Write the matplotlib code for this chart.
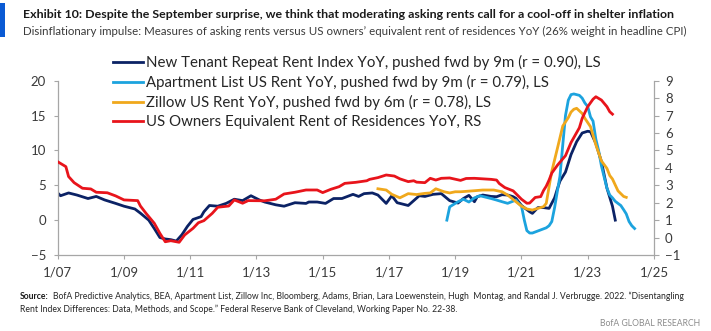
import matplotlib
matplotlib.use("Agg")
import matplotlib.pyplot as plt
import pandas as pd
from matplotlib import font_manager
from matplotlib.patches import Rectangle

# ---------------------------------------------------------------- fonts
_installed = {f.name for f in font_manager.fontManager.ttflist}
BASE_FONT = next((f for f in ("Liberation Sans Narrow", "Lato", "Roboto") if f in _installed),
                 "DejaVu Sans")
plt.rcParams["font.family"] = [BASE_FONT, "DejaVu Sans"]

# ---------------------------------------------------------------- data
# New Tenant Repeat Rent Index YoY (%), shifted forward 9 months, left scale
ntrr_dates = [
    "2007-01", "2007-02", "2007-05", "2007-08", "2007-12", "2008-03", "2008-06", "2008-10",
    "2009-01", "2009-05", "2009-07", "2009-10", "2009-12", "2010-02", "2010-04", "2010-06",
    "2010-08", "2010-10", "2010-12", "2011-02", "2011-05", "2011-06", "2011-08", "2011-11",
    "2012-02", "2012-05", "2012-08", "2012-11", "2013-02", "2013-04", "2013-08", "2013-11",
    "2014-03", "2014-07", "2014-08", "2014-11", "2015-02", "2015-05", "2015-08", "2015-12",
    "2016-02", "2016-04", "2016-07", "2016-09", "2016-12", "2017-02", "2017-04", "2017-08",
    "2017-12", "2018-02", "2018-05", "2018-08", "2018-11", "2019-02", "2019-04", "2019-06",
    "2019-08", "2019-09", "2019-11", "2020-02", "2020-04", "2020-06", "2020-08", "2020-10",
    "2020-11", "2021-01", "2021-04", "2021-05", "2021-07", "2021-09", "2021-11", "2022-01",
    "2022-02", "2022-03", "2022-05", "2022-07", "2022-09", "2022-11", "2023-01", "2023-02",
    "2023-04", "2023-06", "2023-08", "2023-10", "2023-11",
]
ntrr_yoy = [
    3.9, 3.5, 3.9, 3.6, 3.1, 3.4, 2.9, 2.4,
    2.0, 1.6, 1.0, 0.0, -1.2, -2.5, -2.7, -2.8,
    -3.0, -2.1, -0.9, 0.1, 0.5, 1.2, 2.1, 2.0,
    2.4, 3.0, 2.8, 3.5, 2.9, 2.6, 2.2, 2.0,
    2.5, 2.4, 2.6, 2.6, 2.4, 3.1, 3.1, 3.7,
    3.4, 3.8, 3.9, 3.6, 2.4, 3.5, 2.5, 2.1,
    3.5, 3.4, 3.7, 3.8, 2.8, 2.45, 3.1, 3.55,
    2.64, 3.36, 3.6, 3.4, 3.36, 3.65, 3.6, 3.36,
    3.12, 2.1, 1.2, 0.97, 1.8, 1.8, 1.69, 3.2,
    4.5, 5.6, 6.9, 9.4, 11.25, 12.5, 12.75, 12.68,
    11.0, 8.4, 4.6, 2.0, 0.0,
]

# Apartment List US rent YoY (%), shifted forward 9 months, left scale
aptlist_dates = [
    "2018-10", "2018-11", "2019-01", "2019-02", "2019-04", "2019-06", "2019-08", "2019-10",
    "2019-12", "2020-02", "2020-04", "2020-06", "2020-08", "2020-11", "2020-12", "2021-01",
    "2021-02", "2021-03", "2021-04", "2021-05", "2021-06", "2021-08", "2021-10", "2021-11",
    "2021-12", "2022-01", "2022-02", "2022-03", "2022-04", "2022-05", "2022-06", "2022-07",
    "2022-08", "2022-09", "2022-10", "2022-11", "2022-12", "2023-01", "2023-02", "2023-03",
    "2023-04", "2023-05", "2023-06", "2023-07", "2023-08", "2023-09", "2023-10", "2023-11",
    "2023-12", "2024-01", "2024-02", "2024-03", "2024-04", "2024-05", "2024-06",
]
aptlist_yoy = [
    0.0, 1.9, 2.4, 2.64, 3.0, 2.6, 3.2, 3.5,
    3.3, 3.1, 2.88, 2.64, 2.41, 2.88, 2.4, 2.0,
    0.0, -1.5, -1.85, -1.85, -1.7, -1.4, -1.1, -0.8,
    -0.2, 1.8, 4.2, 6.3, 10.8, 15.0, 17.2, 18.0,
    18.1, 18.0, 17.9, 17.5, 16.8, 16.3, 14.8, 14.2,
    11.6, 10.0, 7.8, 6.2, 4.6, 3.6, 3.2, 2.7,
    2.4, 2.1, 1.5, 0.9, -0.2, -0.8, -1.2,
]

# Zillow US rent YoY (%), shifted forward 6 months, left scale
zillow_dates = [
    "2016-09", "2016-12", "2017-02", "2017-05", "2017-08", "2017-11", "2018-02", "2018-04",
    "2018-06", "2018-09", "2018-11", "2019-01", "2019-03", "2019-08", "2019-11", "2020-03",
    "2020-06", "2020-08", "2020-11", "2021-01", "2021-03", "2021-05", "2021-07", "2021-09",
    "2021-10", "2021-11", "2021-12", "2022-02", "2022-04", "2022-06", "2022-07", "2022-08",
    "2022-09", "2022-11", "2022-12", "2023-02", "2023-04", "2023-06", "2023-08", "2023-09",
    "2023-10", "2023-12", "2024-02", "2024-03",
]
zillow_yoy = [
    4.5, 4.32, 3.7, 3.2, 3.8, 3.67, 3.84, 3.9,
    4.5, 4.07, 3.9, 4.07, 4.07, 4.22, 4.32, 4.32,
    4.07, 3.6, 2.64, 2.0, 1.6, 1.45, 1.69, 1.93,
    2.41, 4.79, 7.0, 10.3, 13.5, 14.7, 15.5, 15.9,
    16.04, 15.3, 14.6, 13.4, 10.8, 8.5, 7.42, 6.4,
    5.9, 4.2, 3.4, 3.27,
]

# US owners' equivalent rent of residences YoY (%), right scale
oer_dates = [
    "2007-01", "2007-04", "2007-05", "2007-07", "2007-10", "2008-01", "2008-03", "2008-07",
    "2008-10", "2009-01", "2009-06", "2009-07", "2009-09", "2009-12", "2010-02", "2010-04",
    "2010-06", "2010-09", "2010-11", "2011-02", "2011-04", "2011-06", "2011-09", "2011-11",
    "2012-03", "2012-05", "2012-08", "2012-10", "2013-04", "2013-08", "2013-11", "2014-03",
    "2014-07", "2014-11", "2015-01", "2015-04", "2015-07", "2015-09", "2016-01", "2016-05",
    "2016-06", "2016-09", "2016-12", "2017-03", "2017-05", "2017-08", "2017-10", "2017-11",
    "2018-02", "2018-04", "2018-06", "2018-08", "2018-11", "2019-03", "2019-05", "2019-08",
    "2020-02", "2020-04", "2020-05", "2020-07", "2020-10", "2021-01", "2021-03", "2021-04",
    "2021-06", "2021-08", "2021-09", "2021-10", "2021-11", "2021-12", "2022-02", "2022-05",
    "2022-07", "2022-10", "2022-11", "2023-01", "2023-03", "2023-04", "2023-06", "2023-08",
    "2023-09", "2023-10",
]
oer_yoy = [
    4.35, 4.07, 3.5, 3.15, 2.83, 2.79, 2.6, 2.57,
    2.39, 2.16, 2.12, 1.81, 1.39, 0.82, 0.24, -0.24,
    -0.18, -0.27, 0.15, 0.53, 0.85, 0.97, 1.39, 1.74,
    1.81, 2.16, 1.97, 2.12, 2.11, 2.2, 2.5, 2.6,
    2.73, 2.73, 2.58, 2.77, 2.92, 3.11, 3.17, 3.26,
    3.34, 3.44, 3.59, 3.53, 3.37, 3.21, 3.26, 3.18,
    3.15, 3.4, 3.3, 3.4, 3.42, 3.28, 3.39, 3.4,
    3.34, 3.3, 3.1, 2.87, 2.68, 2.2, 1.97, 1.98,
    2.3, 2.35, 2.7, 2.95, 3.3, 3.7, 4.15, 4.7,
    5.45, 6.3, 6.84, 7.51, 7.94, 8.08, 7.89, 7.51,
    7.22, 7.08,
]

legend_labels = [
    "New Tenant Repeat Rent Index YoY, pushed fwd by 9m (r = 0.90), LS",
    "Apartment List US Rent YoY, pushed fwd by 9m (r = 0.79), LS",
    "Zillow US Rent YoY, pushed fwd by 6m (r = 0.78), LS",
    "US Owners Equivalent Rent of Residences YoY, RS",
]
left_ticks = [-5, 0, 5, 10, 15, 20]
right_ticks = [-1, 0, 1, 2, 3, 4, 5, 6, 7, 8, 9]
x_tick_dates = pd.date_range("2007-01-01", "2025-01-01", freq="24MS")


def series(dates, values):
    return pd.Series(values, index=pd.to_datetime(dates, format="%Y-%m"))


ntrr = series(ntrr_dates, ntrr_yoy)
aptlist = series(aptlist_dates, aptlist_yoy)
zillow = series(zillow_dates, zillow_yoy)
oer = series(oer_dates, oer_yoy)

# ---------------------------------------------------------------- style
NAVY = "#0B2265"
SKY = "#1CA3DE"
GOLD = "#F0A81C"
RED = "#E8141B"
AXIS_GREY = "#A6A6A6"
TEXT = "#3A3A3A"
LW = 2.0
W, H = 711, 331

fig = plt.figure(figsize=(W / 100, H / 100), dpi=100)
renderer = fig.canvas.get_renderer()


def text_width(s, **kw):
    t = fig.text(0, 0, s, **kw)
    w = t.get_window_extent(renderer).width
    t.remove()
    return w


def fit_size(s, width_px, ref_size=10, **kw):
    """Font size at which string s spans width_px pixels."""
    return ref_size * width_px / text_width(s, fontsize=ref_size, **kw)


ax = fig.add_axes([57.7 / W, 1 - 255 / H, (654 - 57.7) / W, (255 - 80.7) / H])
ax2 = ax.twinx()

h1, = ax.plot(ntrr.index.to_pydatetime(), ntrr.values, color=NAVY, lw=LW, solid_joinstyle="round")
h2, = ax.plot(aptlist.index.to_pydatetime(), aptlist.values, color=SKY, lw=LW, solid_joinstyle="round")
h3, = ax.plot(zillow.index.to_pydatetime(), zillow.values, color=GOLD, lw=LW, solid_joinstyle="round")
h4, = ax2.plot(oer.index.to_pydatetime(), oer.values, color=RED, lw=LW, solid_joinstyle="round")

ax.set_xlim(pd.Timestamp("2007-01-01").to_pydatetime(), pd.Timestamp("2025-01-01").to_pydatetime())
ax.set_ylim(-5, 20)
ax2.set_ylim(-1, 9)
ax.set_yticks(left_ticks)
ax2.set_yticks(right_ticks)
ax.set_xticks(list(x_tick_dates.to_pydatetime()))
ax.set_xticklabels([f"{d.month}/{d:%y}" for d in x_tick_dates])

for a in (ax, ax2):
    a.spines["top"].set_visible(False)
    for side in ("left", "right", "bottom"):
        a.spines[side].set_color(AXIS_GREY)
        a.spines[side].set_linewidth(0.9)
    a.patch.set_visible(False)
ax.spines["right"].set_visible(False)
ax2.spines["left"].set_visible(False)
ax2.spines["bottom"].set_visible(False)

TICK_SIZE = 9.5
ax.tick_params(axis="y", direction="out", length=3, width=0.8, color=AXIS_GREY,
               labelcolor=TEXT, labelsize=TICK_SIZE, pad=5.5)
ax.tick_params(axis="x", direction="out", length=3, width=0.8, color=AXIS_GREY,
               labelcolor=TEXT, labelsize=TICK_SIZE, pad=5)
ax2.tick_params(axis="y", direction="out", length=3.5, width=0.8, color=AXIS_GREY,
                labelcolor=TEXT, labelsize=TICK_SIZE, pad=4.5)

legend_size = fit_size(legend_labels[0], 452)
fig.legend([h1, h2, h3, h4], legend_labels, loc="upper left",
           bbox_to_anchor=(113 / W, 1 - 55 / H), frameon=False,
           fontsize=legend_size, handlelength=30 / (legend_size * 100 / 72),
           handletextpad=0.2, labelspacing=0.33,
           borderpad=0, borderaxespad=0, labelcolor="#262626")

# ---------------------------------------------------------------- header
fig.add_artist(Rectangle((0, 1 - 37 / H), 5 / W, 34 / H,
                         transform=fig.transFigure, color="#0A5AD4", lw=0))
title = ("Exhibit 10: Despite the September surprise, we think that moderating asking rents "
         "call for a cool-off in shelter inflation")
subtitle = ("Disinflationary impulse: Measures of asking rents versus US owners’ equivalent rent "
            "of residences YoY (26% weight in headline CPI)")
fig.text(23 / W, 1 - 15 / H, title, fontsize=fit_size(title, 652, fontweight="bold"),
         fontweight="bold", color="#1A1A1A", va="center", ha="left")
fig.text(23 / W, 1 - 31 / H, subtitle, fontsize=fit_size(subtitle, 665),
         color=TEXT, va="center", ha="left")

# ---------------------------------------------------------------- footer
src_line1 = ("BofA Predictive Analytics, BEA, Apartment List, Zillow Inc, Bloomberg, Adams, Brian, "
             "Lara Loewenstein, Hugh  Montag, and Randal J. Verbrugge. 2022. “Disentangling")
src_line2 = ("Rent Index Differences: Data, Methods, and Scope.” Federal Reserve Bank of Cleveland, "
             "Working Paper No. 22-38.")
src_size = fit_size(src_line1, 630)
src_label = fig.text(20 / W, 1 - 299 / H, "Source:", fontsize=src_size, fontweight="bold",
                     color="#1A1A1A", va="baseline", ha="left")
bb = src_label.get_window_extent(renderer)
fig.text((bb.x1 + 4) / W, 1 - 299 / H, src_line1,
         fontsize=src_size, color="#262626", va="baseline", ha="left")
fig.text(20 / W, 1 - 312 / H, src_line2,
         fontsize=src_size, color="#262626", va="baseline", ha="left")
fig.text(700 / W, 1 - 326 / H, "BofA GLOBAL RESEARCH", fontsize=src_size, color="#8C8C8C",
         va="baseline", ha="right")

fig.savefig("out.png", dpi=100)
